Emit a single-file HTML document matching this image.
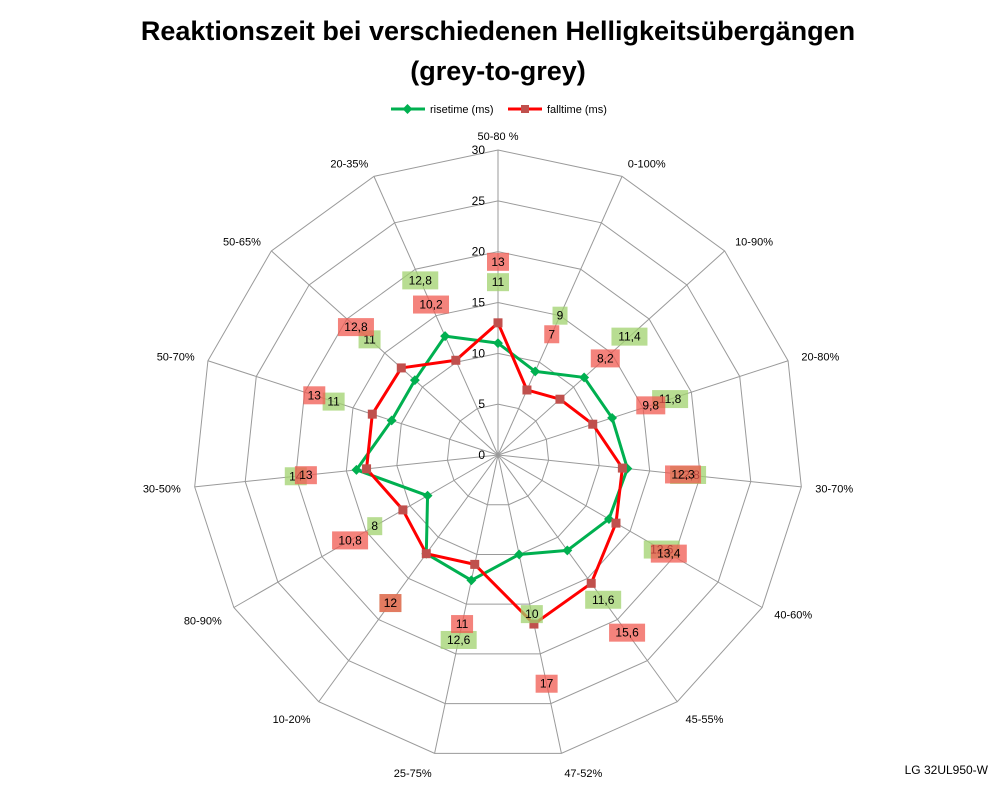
<!DOCTYPE html>
<html><head><meta charset="utf-8">
<style>
html,body{margin:0;padding:0;background:#fff;}
svg{display:block;font-family:"Liberation Sans",Arial,sans-serif;}
</style></head>
<body>
<svg id="chart" width="998" height="786" viewBox="0 0 998 786" xmlns="http://www.w3.org/2000/svg">
<text x="498" y="40" text-anchor="middle" font-size="27" font-weight="bold">Reaktionszeit bei verschiedenen Helligkeitsübergängen</text>
<text x="498" y="80" text-anchor="middle" font-size="27" font-weight="bold">(grey-to-grey)</text>
<g>
<g>
<line x1="391" y1="109" x2="425" y2="109" stroke="#00b050" stroke-width="3"/>
<rect x="404" y="105.5" width="7" height="7" fill="#00b050" transform="rotate(45 407.5 109)"/>
<text x="430" y="113" font-size="11">risetime (ms)</text>
</g>
<g>
<line x1="508" y1="109" x2="542" y2="109" stroke="#ff0000" stroke-width="3"/>
<rect x="521" y="105" width="8" height="8" fill="#c0504d"/>
<text x="547" y="113" font-size="11">falltime (ms)</text>
</g>
</g>
<g id="grid"></g>
<g id="series"></g>
<g id="labels"></g>
<text x="988" y="774" text-anchor="end" font-size="12">LG 32UL950-W</text>
</svg>
<script>
const categories = ["50-80 %","0-100%","10-90%","20-80%","30-70%","40-60%","45-55%","47-52%","25-75%","10-20%","80-90%","30-50%","50-70%","50-65%","20-35%"];
const riseValues = [11,9,11.4,11.8,12.8,12.6,11.6,10,12.6,12,8,14,11,11,12.8];
const fallValues = [13,7,8.2,9.8,12.3,13.4,15.6,17,11,12,10.8,13,13,12.8,10.2];
const tickLabels = [0,5,10,15,20,25,30];
const maxVal = 30;

const NS = "http://www.w3.org/2000/svg";
const cx = 498, cy = 455, R = 305;
const n = categories.length;
function ang(i){ return i * 2 * Math.PI / n; }
function pt(i, v){ const r = v / maxVal * R; return [cx + r * Math.sin(ang(i)), cy - r * Math.cos(ang(i))]; }
function mk(tag, attrs, parent){ const e = document.createElementNS(NS, tag); for (const k in attrs) e.setAttribute(k, attrs[k]); parent.appendChild(e); return e; }
function fmt(v){ return String(v).replace('.', ','); }

const grid = document.getElementById('grid');
tickLabels.forEach(t => {
  if (t === 0) return;
  const pts = categories.map((c, i) => pt(i, t).join(',')).join(' ');
  const ring = mk('polygon', {points: pts, fill: 'none', stroke: '#9a9a9a', 'stroke-width': 1}, grid);
  
  
});
categories.forEach((c, i) => {
  const [x, y] = pt(i, maxVal);
  const sp = mk('line', {x1: cx, y1: cy, x2: x, y2: y, stroke: '#9a9a9a', 'stroke-width': 1}, grid);
  
  
  const a = ang(i);
  const r = R + 14;
  const lx = cx + r * Math.sin(a), ly = cy - r * Math.cos(a);
  const s = Math.sin(a);
  const anchor = Math.abs(s) < 0.2 ? 'middle' : (s > 0 ? 'start' : 'end');
  const tx = mk('text', {x: lx, y: ly + 4 + (Math.cos(a) < -0.5 ? 6 : 0), 'text-anchor': anchor, 'font-size': 11}, grid);
  tx.textContent = c;
  
  
});
tickLabels.forEach(t => {
  const [x, y] = pt(0, t);
  const tx = mk('text', {x: x - 13, y: y + 4, 'text-anchor': 'end', 'font-size': 12}, grid);
  tx.textContent = t;
  
  
});

const series = document.getElementById('series');
const labels = document.getElementById('labels');
function drawSeries(vals, color, markerColor, marker, lblColor, name){
  const pts = vals.map((v, i) => pt(i, v).join(',')).join(' ');
  const pg = mk('polygon', {points: pts, fill: 'none', stroke: color, 'stroke-width': 3, 'stroke-linejoin': 'round'}, series);
  
  
  vals.forEach((v, i) => {
    const [x, y] = pt(i, v);
    let m;
    if (marker === 'diamond') m = mk('rect', {x: x - 3.5, y: y - 3.5, width: 7, height: 7, fill: markerColor, transform: 'rotate(45 ' + x + ' ' + y + ')'}, series);
    else m = mk('rect', {x: x - 4.5, y: y - 4.5, width: 9, height: 9, fill: markerColor}, series);
    
    
    const [lx, ly] = pt(i, v + 6);
    const txt = fmt(v);
    const w = txt.length * 7 + 8;
    const bg = mk('rect', {x: lx - w / 2, y: ly - 9, width: w, height: 18, fill: lblColor}, labels);
    
    
    const t = mk('text', {x: lx, y: ly + 4, 'text-anchor': 'middle', 'font-size': 12}, labels);
    t.textContent = txt;
    
    
  });
}
drawSeries(riseValues, '#00b050', '#00b050', 'diamond', 'rgba(160,210,110,0.75)', 'risetime');
drawSeries(fallValues, '#ff0000', '#c0504d', 'square', 'rgba(240,90,80,0.75)', 'falltime');
</script>
</body></html>
